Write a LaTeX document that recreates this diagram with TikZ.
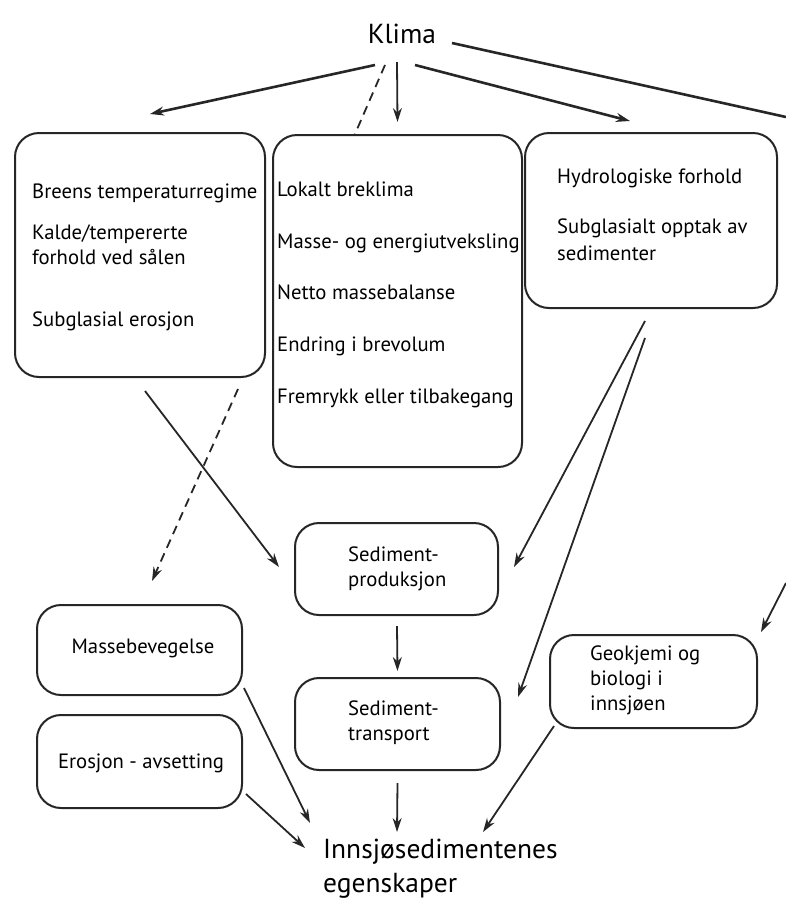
\documentclass[tikz,border=0pt]{standalone}
\usepackage{fontspec}
\setmainfont{PT Sans}
\usetikzlibrary{calc,arrows.meta}
\begin{document}
\begin{tikzpicture}[x=1pt,y=-1pt,
  box/.style={draw=black!85, line width=2pt, rounded corners=24pt, fill=white, inner sep=0pt},
  txt/.style={anchor=base west, inner sep=0pt, font=\fontsize{20.7}{24}\selectfont},
  ctxt/.style={anchor=base, inner sep=0pt, font=\fontsize{20.7}{24}\selectfont},
  big/.style={inner sep=0pt, font=\fontsize{27.5}{32}\selectfont},
  arr/.style={-{Stealth[length=14pt,width=9pt]}, line width=1.8pt, draw=black!85},
  thickarr/.style={arr, line width=2.6pt},
  dsh/.style={dash pattern=on 9pt off 6pt}]
\useasboundingbox (0,0) rectangle (786,898);

% boxes
\node[box, minimum width=250pt, minimum height=244pt] (b1) at (140,255) {};
\node[box, minimum width=249pt, minimum height=332pt] (b2) at (397.5,301) {};
\node[box, minimum width=252pt, minimum height=175pt] (b3) at (651,220.5) {};
\node[box, minimum width=203pt, minimum height=92pt] (prod) at (396.5,569) {};
\node[box, minimum width=205pt, minimum height=92pt] (trans) at (397.5,724) {};
\node[box, minimum width=205pt, minimum height=90pt] (masse) at (139.5,650) {};
\node[box, minimum width=205pt, minimum height=93pt] (eros) at (139.5,761.5) {};
\node[box, minimum width=207pt, minimum height=93pt] (geo) at (653.5,681.5) {};

% texts
\node[big, anchor=base] (klima) at (402,43) {Klima};
\node[txt] (t1a) at (32,198) {Breens temperaturregime};
\node[txt] (t1b) at (32,239.5) {Kalde/tempererte};
\node[txt] (t1c) at (32,264.5) {forhold ved sålen};
\node[txt] (t1d) at (32,326) {Subglasial erosjon};
\node[txt] (t2a) at (277,196.5) {Lokalt breklima};
\node[txt] (t2b) at (277,248) {Masse- og energiutveksling};
\node[txt] (t2c) at (277,299.5) {Netto massebalanse};
\node[txt] (t2d) at (277,351.5) {Endring i brevolum};
\node[txt] (t2e) at (277,403) {Fremrykk eller tilbakegang};
\node[txt] (t3a) at (557,183) {Hydrologiske forhold};
\node[txt] (t3b) at (557,233) {Subglasialt opptak av};
\node[txt] (t3c) at (557,260) {sedimenter};
\node[txt] (tpa) at (348,561.5) {Sediment-};
\node[txt] (tpb) at (348,586.5) {produksjon};
\node[txt] (tta) at (348,715) {Sediment-};
\node[txt] (ttb) at (348,740) {transport};
\node[ctxt] (tm) at (143,653) {Massebevegelse};
\node[ctxt] (te) at (141,768) {Erosjon - avsetting};
\node[txt] (tga) at (590,660) {Geokjemi og};
\node[txt] (tgb) at (590,685) {biologi i};
\node[txt] (tgc) at (590,710) {innsjøen};
\node[big, anchor=base west] (innA) at (323,858) {Innsjøsedimentenes};
\node[big, anchor=base west] (innB) at (323,892) {egenskaper};

\coordinate (edgeA) at (786,117);
\coordinate (edgeB) at (786,583);

% connectors
\draw[thickarr] ($(klima.base)+(-27,22)$) -- ($(b1.north)+(10,-18)$);
\draw[line width=1.8pt, draw=black!85, dsh] ($(klima.base)+(-17,22)$) -- ($(b2.north)+(-42.5,0)$);
\draw[arr] ($(klima.base)+(-5,19)$) -- ($(b2.north)+(0,-12)$);
\draw[thickarr] ($(klima.base)+(13,22)$) -- ($(b3.north)+(-21,-11)$);
\draw[line width=2.6pt, draw=black!85] ($(klima.base)+(50,0)$) -- (edgeA);
\draw[arr] (edgeB) -- ($(geo.north east)+(3,-2)$);
\draw[arr] ($(b1.south)+(5,13)$) -- ($(prod.west)+(-15,-2)$);
\draw[arr, dsh] ($(b1.south)+(98,11)$) -- ($(masse.north)+(12.5,-23)$);
\draw[arr] ($(b3.south)+(-6,12)$) -- ($(prod.east)+(15,-2)$);
\draw[arr] ($(b3.south)+(-6,29)$) -- ($(trans.east)+(17,-27)$);
\draw[arr] ($(prod.south)+(0.5,10)$) -- ($(trans.north)+(0,-6)$);
\draw[arr] ($(trans.south)+(0,12)$) -- ($(innA.base west)+(74,-26)$);
\draw[arr] ($(geo.south west)+(5,-3)$) -- ($(innA.base west)+(160,-26)$);
\draw[arr] ($(masse.south east)+(1,-8)$) -- ($(innA.base west)+(-13,-35)$);
\draw[arr] ($(eros.south east)+(3,-15)$) -- ($(innA.base west)+(-18,-10)$);
\end{tikzpicture}
\end{document}
